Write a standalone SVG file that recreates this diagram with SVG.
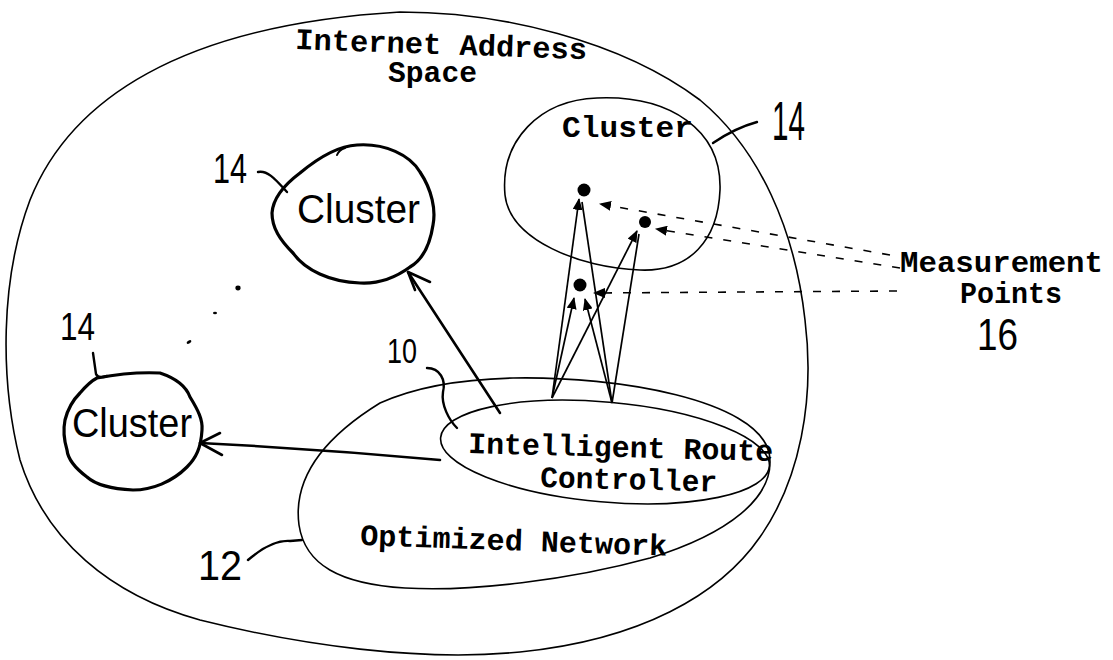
<svg xmlns="http://www.w3.org/2000/svg" width="1113" height="660" viewBox="0 0 1113 660">
  <defs>
    <style>
      .thin { fill: none; stroke: #000; stroke-width: 1.6; stroke-linecap: round; stroke-linejoin: round; }
      .hand { fill: none; stroke: #000; stroke-width: 3.2; stroke-linecap: round; stroke-linejoin: round; }
      .arrow { fill: none; stroke: #000; stroke-width: 2.6; stroke-linecap: round; stroke-linejoin: round; }
      .probe { fill: none; stroke: #000; stroke-width: 1.7; }
      .dash { fill: none; stroke: #000; stroke-width: 1.6; stroke-dasharray: 8 11; }
      .type { font-family: "Liberation Mono", "DejaVu Sans Mono", monospace; font-weight: bold; font-size: 30px; fill: #000; }
      .script { font-family: "Liberation Sans", "DejaVu Sans", sans-serif; font-size: 40px; fill: #000; }
      .num { font-family: "Liberation Sans", "DejaVu Sans", sans-serif; fill: #000; }
      .pt { fill: #000; }
    </style>
    <marker id="tri" viewBox="0 0 12 10" refX="11" refY="5" markerWidth="12" markerHeight="10" markerUnits="userSpaceOnUse" orient="auto">
      <path d="M0,0 L12,5 L0,10 Z" fill="#000"/>
    </marker>
  </defs>

  <rect width="1113" height="660" fill="#fff"/>

  <!-- Internet address space boundary -->
  <g id="internet-address-space">
    <path class="thin" d="M 400,12 C 500,12 620,40 700,100 C 760,150 795,230 805,320 C 815,400 800,480 760,537 C 720,595 640,640 520,652 C 420,662 300,645 200,620 C 110,595 45,540 20,460 C 0,380 0,280 30,200 C 70,100 180,25 400,12 Z"/>
    <text class="type" x="295" y="49" textLength="292" lengthAdjust="spacingAndGlyphs" transform="rotate(2 295 49)">Internet Address</text>
    <text class="type" x="388" y="82" textLength="89" lengthAdjust="spacingAndGlyphs">Space</text>
  </g>

  <!-- Cluster with measurement points (top right) -->
  <g id="cluster-measured">
    <path class="thin" d="M 597,98 C 670,95 722,130 720,190 C 718,240 690,272 640,270 C 580,268 510,240 505,195 C 500,140 540,100 597,98 Z"/>
    <text class="type" x="562" y="137" textLength="131" lengthAdjust="spacingAndGlyphs">Cluster</text>
    <path class="hand" style="stroke-width:2.4" d="M 713,143 Q 735,128 757,122"/>
    <text class="num" x="772" y="140" font-size="56" textLength="33" lengthAdjust="spacingAndGlyphs">14</text>
  </g>

  <!-- Cluster (upper left) -->
  <g id="cluster-upper">
    <path class="hand" d="M 357,145 C 385,143 410,155 420,172 C 432,190 436,210 433,225 C 430,245 422,260 410,267 C 395,278 378,284 360,283 C 330,282 305,270 293,253 C 280,240 272,228 272,213 C 273,198 284,185 300,173 C 318,158 337,146 357,145 Z"/>
    <path class="hand" style="stroke-width:2" d="M 337,155 Q 339,150 345,148"/>
    <text class="script" x="297" y="223" textLength="123" lengthAdjust="spacingAndGlyphs">Cluster</text>
    <path class="hand" style="stroke-width:2.4" d="M 258,172 C 268,170 276,180 287,192"/>
    <text class="num" x="213" y="183" font-size="42" textLength="34" lengthAdjust="spacingAndGlyphs">14</text>
  </g>

  <!-- Cluster (lower left) -->
  <g id="cluster-lower">
    <path class="hand" d="M 97,378 C 118,374 140,372 160,373 C 175,378 186,386 190,397 C 198,410 203,420 202,430 C 201,448 196,458 187,467 C 172,482 152,490 133,490 C 113,489 97,486 87,477 C 75,468 68,460 67,450 C 64,440 63,430 65,420 C 68,408 73,400 80,393 C 86,386 91,381 97,378 Z"/>
    <text class="script" x="72" y="437" textLength="120" lengthAdjust="spacingAndGlyphs">Cluster</text>
    <path class="hand" style="stroke-width:2.4" d="M 93,353 L 96,374 Q 98,379 107,376"/>
    <text class="num" x="60" y="340" font-size="38" textLength="35" lengthAdjust="spacingAndGlyphs">14</text>
    <!-- ellipsis between clusters -->
    <ellipse class="pt" cx="238" cy="288" rx="2.6" ry="2.4"/>
    <ellipse class="pt" cx="215" cy="313" rx="2" ry="1.3"/>
    <ellipse class="pt" cx="189" cy="342" rx="2.6" ry="1.4" transform="rotate(-30 189 342)"/>
  </g>

  <!-- Optimized network -->
  <g id="optimized-network">
    <path class="thin" d="M 513,378 C 620,376 755,400 769,452 C 778,498 725,535 650,558 C 570,580 470,592 405,588 C 340,584 305,565 299,525 C 293,480 320,440 380,403 C 420,385 470,379 513,378 Z"/>
    <text class="type" x="360" y="545" textLength="307" lengthAdjust="spacingAndGlyphs" transform="rotate(2 360 545)">Optimized Network</text>
    <path class="hand" style="stroke-width:2.4" d="M 248,560 C 262,548 276,540 290,541 L 302,540"/>
    <text class="num" x="198" y="580" font-size="42" textLength="44" lengthAdjust="spacingAndGlyphs">12</text>
  </g>

  <!-- Intelligent route controller -->
  <g id="route-controller">
    <ellipse class="thin" cx="605" cy="452" rx="165" ry="50" transform="rotate(5 605 452)"/>
    <text class="type" x="468" y="453" textLength="305" lengthAdjust="spacingAndGlyphs" transform="rotate(1.5 468 453)">Intelligent Route</text>
    <text class="type" x="540" y="487" textLength="177" lengthAdjust="spacingAndGlyphs" transform="rotate(1.5 540 487)">Controller</text>
    <path class="hand" style="stroke-width:2.4" d="M 427,368 C 440,368 446,380 443,392 C 441,405 449,420 457,428"/>
    <text class="num" x="387" y="363" font-size="35" textLength="30" lengthAdjust="spacingAndGlyphs">10</text>
  </g>

  <!-- Measurement points -->
  <g id="measurement-points">
    <circle class="pt" cx="584" cy="190" r="6.5"/>
    <circle class="pt" cx="645" cy="222" r="6"/>
    <circle class="pt" cx="580" cy="285" r="6.5"/>
    <text class="type" x="900" y="272" textLength="203" lengthAdjust="spacingAndGlyphs">Measurement</text>
    <text class="type" x="960" y="303" textLength="102" lengthAdjust="spacingAndGlyphs">Points</text>
    <text class="num" x="977" y="350" font-size="45" textLength="41" lengthAdjust="spacingAndGlyphs">16</text>
  </g>

  <!-- Connectors -->
  <g id="connectors">
    <!-- controller to clusters -->
    <path class="arrow" d="M 500,413 L 408,272"/>
    <path class="arrow" d="M 415,290 L 408,272 L 430,282"/>
    <path class="arrow" d="M 440,460 Q 320,449 200,443"/>
    <path class="arrow" d="M 220,433 L 200,443 L 222,455"/>

    <!-- probes from the controller to measurement points -->
    <path class="probe" d="M 552,398 L 579,199" marker-end="url(#tri)"/>
    <path class="probe" d="M 552,398 L 637,231" marker-end="url(#tri)"/>
    <path class="probe" d="M 552,398 L 574,298" marker-end="url(#tri)"/>
    <path class="probe" d="M 612,403 L 582,202"/>
    <path class="probe" d="M 612,403 L 639,234"/>
    <path class="probe" d="M 612,403 L 585,299" marker-end="url(#tri)"/>

    <!-- dashed callouts for the measurement points label -->
    <path class="dash" d="M 890,255 L 600,204" marker-end="url(#tri)"/>
    <path class="dash" d="M 900,268 L 656,229" marker-end="url(#tri)"/>
    <path class="dash" d="M 897,291 L 594,293" marker-end="url(#tri)"/>
  </g>
</svg>
